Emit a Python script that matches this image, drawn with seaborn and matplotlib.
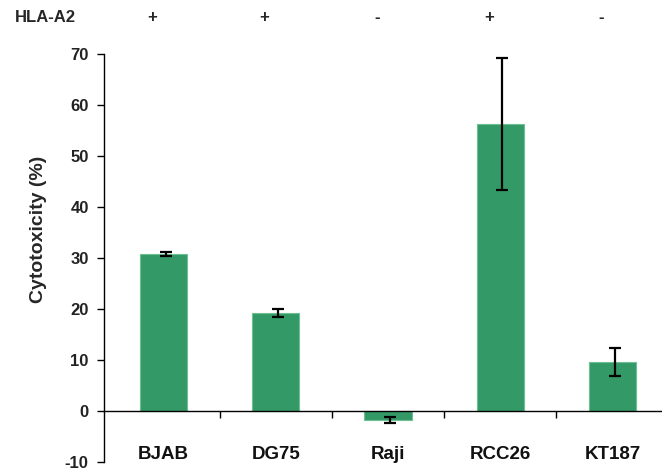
import numpy as np
import pandas as pd
import matplotlib
matplotlib.use("Agg")
import matplotlib.pyplot as plt
import seaborn as sns

# ── data ──
cells = ["BJAB", "DG75", "Raji", "RCC26", "KT187"]
cytotoxicity = [30.8, 19.2, -1.8, 56.3, 9.6]
errors = [0.4, 0.8, 0.6, 13.0, 2.7]
hla_a2 = ["+", "+", "-", "+", "-"]
y_ticks = [-10, 0, 10, 20, 30, 40, 50, 60, 70]

sns.set_theme(style="white")
plt.rcParams["font.family"] = ["Liberation Sans", "DejaVu Sans"]

df = pd.DataFrame({"cell": cells, "value": cytotoxicity})

fig = plt.figure(figsize=(6.62, 4.70), dpi=100)
# axes runs past the right edge like in the original
ax = fig.add_axes([0.157, 0.017, 0.853, 0.868])

sns.barplot(data=df, x="cell", y="value", color="#339966", saturation=1,
            width=0.42, edgecolor="#6cc092", linewidth=0.8, ax=ax)
ax.errorbar(np.arange(len(cells)) + 0.02, cytotoxicity, yerr=errors, fmt="none",
            ecolor="black", elinewidth=1.6, capsize=4, capthick=1.6)

ax.set_xlim(-0.53, 4.47)
ax.set_ylim(-10, 70)
ax.set_yticks(y_ticks)
ax.set_yticklabels([str(t) for t in y_ticks], fontsize=12, fontweight="bold", color="#222222")

# x axis sits at y = 0
ax.spines["top"].set_visible(False)
ax.spines["right"].set_visible(False)
ax.spines["bottom"].set_position(("data", 0))
for s in ["left", "bottom"]:
    ax.spines[s].set_color("black")
    ax.spines[s].set_linewidth(1.0)

ax.set_xticks(np.arange(len(cells)))
ax.set_xticklabels(cells, fontsize=13.5, fontweight="bold", color="#111111")
ax.tick_params(axis="x", which="major", length=0, pad=25)
ax.set_xticks(np.arange(len(cells)) + 0.5, minor=True)
ax.tick_params(axis="x", which="minor", bottom=True, length=5, width=1.0,
               direction="out", color="black")
ax.tick_params(axis="y", left=True, length=5, width=1.0, direction="out",
               color="black", pad=6)
ax.set_xlabel("")
ax.set_ylabel("Cytotoxicity (%)", fontsize=14, fontweight="bold")
ax.yaxis.set_label_coords(-0.10, 0.571)

# HLA-A2 status row
fig.text(0.022, 0.962, "HLA-A2", fontsize=12, fontweight="bold", ha="left", va="center")
for i, sign in enumerate(hla_a2):
    xd = ax.transData.transform((i - 0.1, 0))[0]
    xf = fig.transFigure.inverted().transform((xd, 0))[0]
    fig.text(xf, 0.962, sign, fontsize=12, fontweight="bold", ha="center", va="center")

fig.savefig("out.png", dpi=100)
